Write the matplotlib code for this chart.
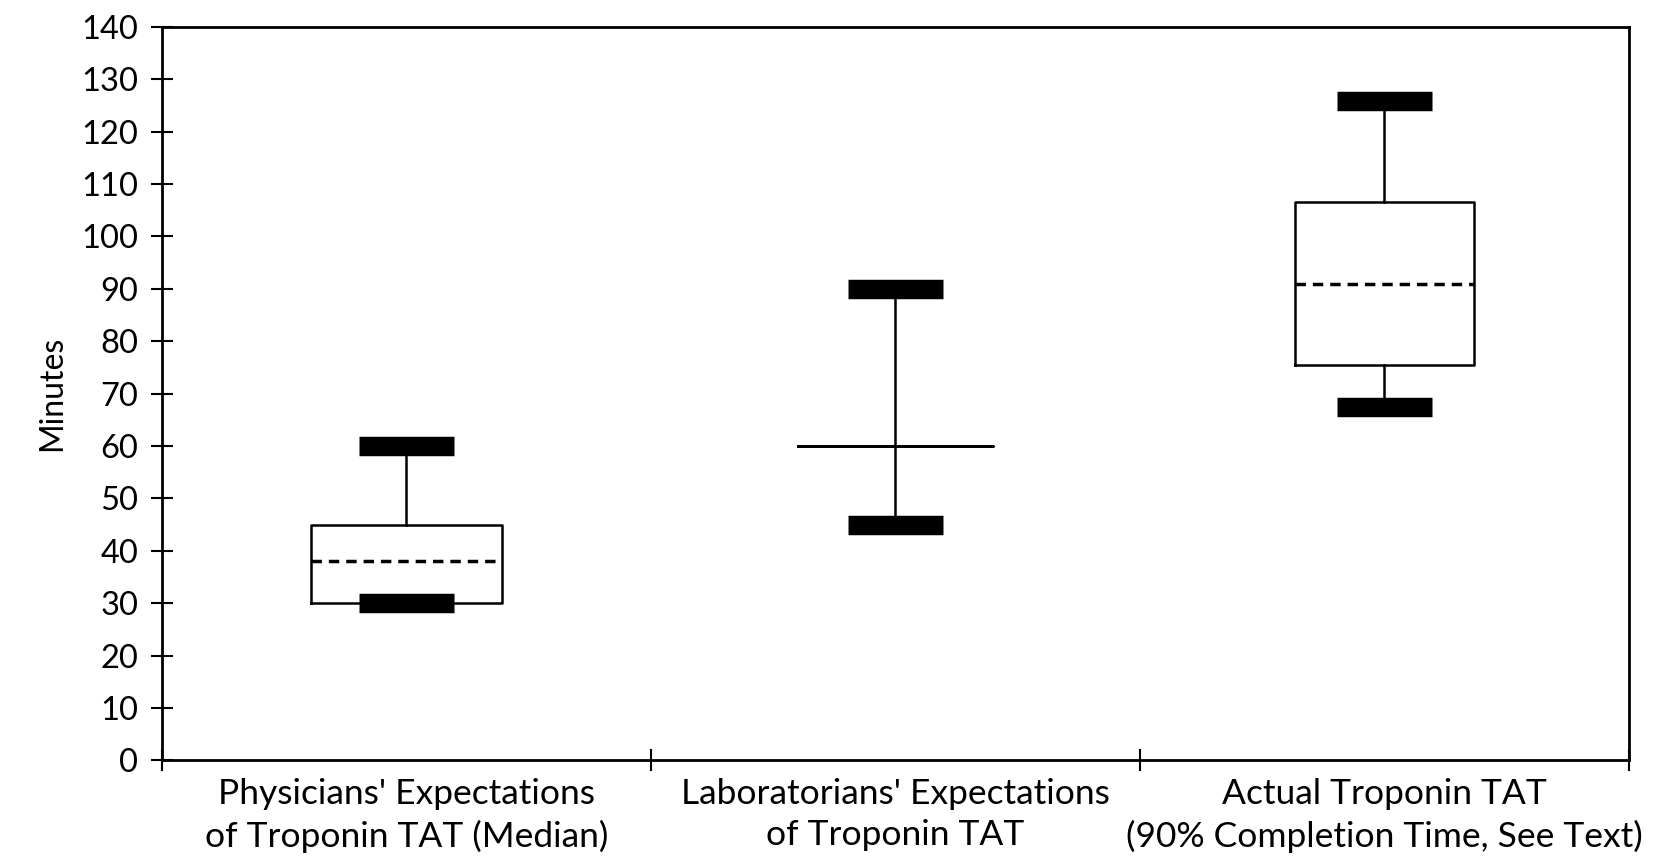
import matplotlib.pyplot as plt

# category labels (two lines each)
categories = [
    "Physicians' Expectations\nof Troponin TAT (Median)",
    "Laboratorians' Expectations\nof Troponin TAT",
    "Actual Troponin TAT\n(90% Completion Time, See Text)",
]

# box statistics (minutes)
q1 = [30, 60, 75.5]
medians = [38, 60, 91]
q3 = [45, 60, 106.5]
whisk_lo = [30, 45, 67.5]
whisk_hi = [60, 90, 125.8]

y_ticks = list(range(0, 141, 10))


def main():
    plt.rcParams['font.family'] = ['Lato', 'DejaVu Sans']

    fig = plt.figure(figsize=(16.62, 8.64), dpi=100)
    ax = fig.add_axes([0.0975, 0.12, 0.8825, 0.849])

    stats = []
    for i in range(len(categories)):
        stats.append(dict(med=medians[i], q1=q1[i], q3=q3[i],
                          whislo=whisk_lo[i], whishi=whisk_hi[i], fliers=[]))

    positions = [0.5, 1.5, 2.5]
    art = ax.bxp(stats, positions=positions, widths=[0.39, 0.40, 0.366],
                 capwidths=0.195, showfliers=False, patch_artist=False,
                 boxprops=dict(color='black', linewidth=1.8),
                 whiskerprops=dict(color='black', linewidth=1.8),
                 capprops=dict(color='black', linewidth=14, solid_capstyle='butt'),
                 medianprops=dict(color='black', linewidth=2.5, linestyle=(0, (3, 2))))
    # laboratorians have a single solid line at the median
    art['medians'][1].set_linestyle('-')
    art['medians'][1].set_linewidth(1.8)

    ax.set_xlim(0, 3)
    ax.set_ylim(0, 140)
    ax.set_yticks(y_ticks)
    ax.set_xticks([0, 1, 2, 3])
    ax.set_xticklabels([])
    ax.set_xticks(positions, minor=True)
    ax.set_xticklabels(categories, minor=True, fontsize=25.5, linespacing=1.35)
    ax.tick_params(axis='x', which='minor', length=0, pad=13)
    ax.tick_params(axis='x', which='major', direction='inout', length=16, width=1.5)
    ax.tick_params(axis='y', direction='inout', length=16, width=1.5, labelsize=23.5, pad=9)
    ax.set_ylabel('Minutes', fontsize=23, labelpad=10)

    for s in ax.spines.values():
        s.set_linewidth(2)

    fig.savefig('out.png', dpi=100)


if __name__ == '__main__':
    main()
